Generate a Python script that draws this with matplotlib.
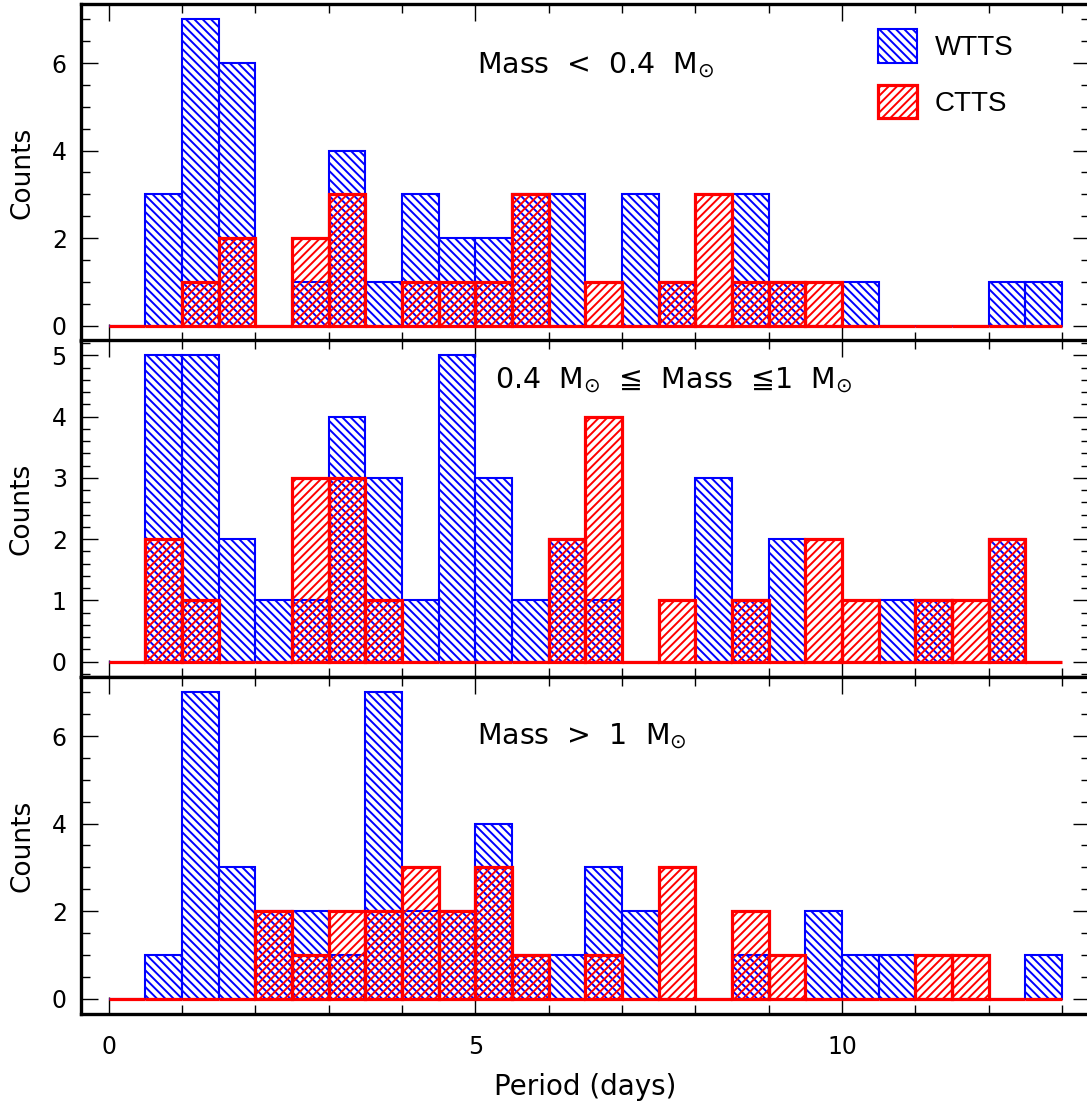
import numpy as np
import matplotlib.pyplot as plt
from matplotlib.patches import Patch
from matplotlib.ticker import MultipleLocator

plt.rcParams['font.family'] = 'DejaVu Sans'
plt.rcParams['hatch.linewidth'] = 1.4

# period bins: 0 .. 13 days, 0.5 day wide
bin_edges = np.arange(0, 13.01, 0.5)
bin_left = bin_edges[:-1]

# counts per bin
wtts_low = [0, 3, 7, 6, 0, 1, 4, 1, 3, 2, 2, 3, 3, 0, 3, 1, 0, 3, 1, 0, 1, 0, 0, 0, 1, 1]
ctts_low = [0, 0, 1, 2, 0, 2, 3, 0, 1, 1, 1, 3, 0, 1, 0, 1, 3, 1, 1, 1, 0, 0, 0, 0, 0, 0]
wtts_mid = [0, 5, 5, 2, 1, 1, 4, 3, 1, 5, 3, 1, 2, 1, 0, 0, 3, 1, 2, 0, 0, 1, 1, 0, 2, 0]
ctts_mid = [0, 2, 1, 0, 0, 3, 3, 1, 0, 0, 0, 0, 2, 4, 0, 1, 0, 1, 0, 2, 1, 0, 1, 1, 2, 0]
wtts_high = [0, 1, 7, 3, 2, 2, 1, 7, 2, 2, 4, 1, 1, 3, 2, 0, 0, 1, 0, 2, 1, 1, 0, 0, 0, 1]
ctts_high = [0, 0, 0, 0, 2, 1, 2, 2, 3, 2, 3, 1, 0, 1, 0, 3, 0, 2, 1, 0, 0, 0, 1, 1, 0, 0]

panel_text = ['Mass  <  0.4  M$_{\\odot}$',
              '0.4  M$_{\\odot}$  \u2266  Mass  \u22661  M$_{\\odot}$',
              'Mass  >  1  M$_{\\odot}$']
text_pos = [(5.03, 5.78), (5.27, 4.47), (5.03, 5.81)]

panels = [(wtts_low, ctts_low), (wtts_mid, ctts_mid), (wtts_high, ctts_high)]
ylims = [(-0.35, 7.35), (-0.25, 5.25), (-0.35, 7.35)]
ymajor = [2, 1, 2]
yminor = [0.5, 0.2, 0.5]

blue_hatch = '\\\\\\\\'
red_hatch = '////'

fig = plt.figure(figsize=(10.87, 11.10), dpi=100)
left, width = 0.0742, 0.9285
bottoms = [0.6928, 0.3901, 0.0865]
height = 0.3036

for i, (w, c) in enumerate(panels):
    ax = fig.add_axes([left, bottoms[i], width, height])
    ax.bar(bin_left, w, width=0.5, align='edge', fill=False,
           edgecolor='blue', hatch=blue_hatch, lw=1.5, zorder=2)
    ax.bar(bin_left, c, width=0.5, align='edge', fill=False,
           edgecolor='red', hatch=red_hatch, lw=2.3, zorder=3)
    ax.set_xlim(-0.38, 13.38)
    ax.set_ylim(*ylims[i])
    ax.xaxis.set_major_locator(MultipleLocator(5))
    ax.xaxis.set_minor_locator(MultipleLocator(1))
    ax.yaxis.set_major_locator(MultipleLocator(ymajor[i]))
    ax.yaxis.set_minor_locator(MultipleLocator(yminor[i]))
    ax.tick_params(which='both', direction='in', top=True, right=True,
                   width=1.0, labelsize=17)
    ax.tick_params(which='major', length=12)
    ax.tick_params(which='minor', length=6.7)
    ax.tick_params(axis='y', pad=10)
    ax.tick_params(axis='x', pad=15)
    for s in ax.spines.values():
        s.set_linewidth(2.4)
    ax.set_ylabel('Counts', fontsize=19, labelpad=12)
    ax.text(text_pos[i][0], text_pos[i][1], panel_text[i], fontsize=20.5,
            va='baseline', ha='left')
    if i < 2:
        ax.tick_params(axis='x', labelbottom=False)
    else:
        ax.set_xlabel('Period (days)', fontsize=20, labelpad=10)
    if i == 0:
        handles = [Patch(facecolor='none', edgecolor='blue', hatch=blue_hatch, lw=1.5),
                   Patch(facecolor='none', edgecolor='red', hatch=red_hatch, lw=2.3)]
        ax.legend(handles, ['WTTS', 'CTTS'], loc='upper left',
                  bbox_to_anchor=(0.79, 0.925), frameon=False,
                  prop={'family': 'Liberation Sans', 'size': 20},
                  handlelength=1.4, handleheight=1.47, handletextpad=0.65,
                  labelspacing=0.8, borderpad=0, borderaxespad=0)

fig.savefig('out.png', dpi=100)
